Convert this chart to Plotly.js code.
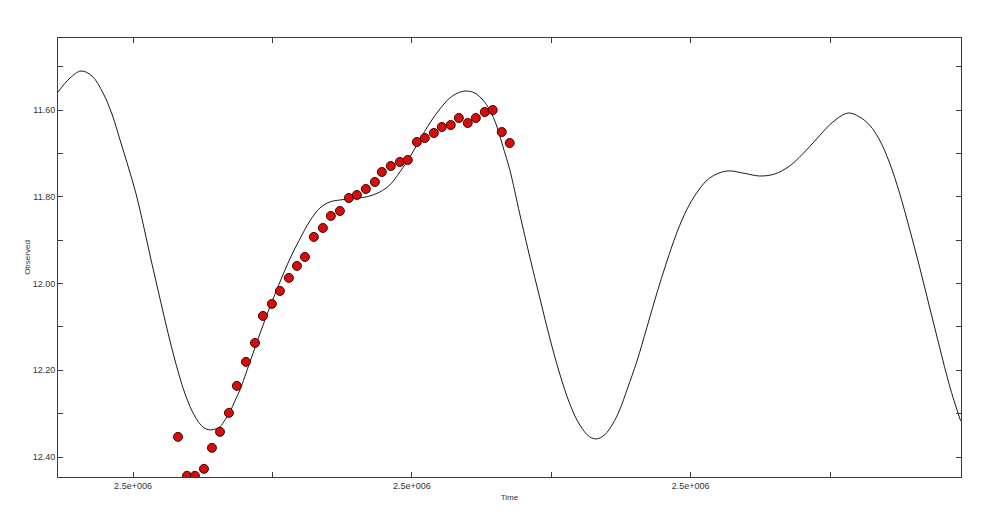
<!DOCTYPE html>
<html>
<head>
<meta charset="utf-8">
<script src="https://cdn.plot.ly/plotly-3.0.1.min.js"></script>
<style>
  html, body { margin: 0; padding: 0; background: #ffffff; }
  #chart { width: 1000px; height: 525px; }
</style>
</head>
<body>
<div id="chart"></div>
<script>
// Fitted model curve (time, magnitude)
const curveTime = [
  2450046.2, 2450054.8, 2450062.7, 2450070.6, 2450078.5, 2450084.9, 2450090.7, 2450096.4,
  2450102.2, 2450107.9, 2450113.6, 2450119.4, 2450125.1, 2450130.8, 2450136.6, 2450142.3,
  2450148.0, 2450152.3, 2450155.9, 2450159.5, 2450162.4, 2450166.0, 2450169.5, 2450173.1,
  2450176.7, 2450183.9, 2450191.0, 2450198.2, 2450205.4, 2450212.5, 2450219.7, 2450226.9,
  2450234.1, 2450241.2, 2450248.4, 2450255.6, 2450262.7, 2450269.9, 2450277.1, 2450284.2,
  2450291.4, 2450298.6, 2450305.7, 2450312.9, 2450320.1, 2450327.2, 2450333.0, 2450338.7,
  2450345.2, 2450350.9, 2450355.9, 2450360.9, 2450365.2, 2450370.3, 2450377.4, 2450384.6,
  2450391.8, 2450398.9, 2450406.1, 2450413.3, 2450420.4, 2450427.6, 2450432.6, 2450438.3,
  2450444.1, 2450449.1, 2450454.8, 2450461.3, 2450468.5, 2450475.6, 2450482.8, 2450490.0,
  2450497.1, 2450504.3, 2450513.6, 2450525.8, 2450537.3, 2450549.4, 2450560.2, 2450571.0,
  2450580.3, 2450590.3, 2450599.6, 2450609.0, 2450614.0, 2450621.2, 2450628.3, 2450635.5,
  2450642.7, 2450649.8, 2450657.0, 2450664.2, 2450671.3, 2450678.5, 2450685.7, 2450693.6
];
const curveMag = [
  11.5585, 11.5263, 11.5101, 11.5217, 11.5608, 11.6092, 11.6691, 11.7290,
  11.7935, 11.8719, 11.9548, 12.0355, 12.1138, 12.1852, 12.2474, 12.2935,
  12.3235, 12.3350, 12.3373, 12.3350, 12.3304, 12.3143, 12.2959, 12.2705,
  12.2452, 12.1806, 12.1161, 12.0539, 11.9963, 11.9433, 11.8972, 11.8557,
  11.8258, 11.8120, 11.8074, 11.8051, 11.8028, 11.7982, 11.7889, 11.7728,
  11.7428, 11.7083, 11.6691, 11.6300, 11.5977, 11.5724, 11.5608, 11.5562,
  11.5608, 11.5770, 11.6000, 11.6369, 11.6829, 11.7382, 11.8396, 11.9387,
  12.0332, 12.1253, 12.2083, 12.2774, 12.3258, 12.3535, 12.3581, 12.3488,
  12.3235, 12.2912, 12.2405, 12.1806, 12.1023, 12.0239, 11.9502, 11.8834,
  11.8304, 11.7912, 11.7567, 11.7406, 11.7452, 11.7521, 11.7475, 11.7290,
  11.7014, 11.6668, 11.6346, 11.6115, 11.6069, 11.6161, 11.6346, 11.6691,
  11.7221, 11.7912, 11.8742, 11.9618, 12.0539, 12.1461, 12.2359, 12.3166
];

// Observed points (time, magnitude)
const obsTime = [
  2450132.3, 2450138.7, 2450144.4, 2450150.9, 2450156.6, 2450162.4, 2450168.8, 2450174.5,
  2450181.0, 2450187.5, 2450193.2, 2450199.6, 2450205.4, 2450211.8, 2450217.6, 2450223.3,
  2450229.7, 2450236.2, 2450241.9, 2450248.4, 2450254.8, 2450260.6, 2450267.0, 2450273.5,
  2450278.5, 2450284.9, 2450291.4, 2450297.1, 2450303.6, 2450309.3, 2450315.8, 2450321.5,
  2450327.9, 2450333.7, 2450340.1, 2450345.9, 2450352.3, 2450358.0, 2450364.5, 2450370.2
];
const obsMag = [
  12.3535, 12.4433, 12.4433, 12.4272, 12.3788, 12.3419, 12.2982, 12.2359,
  12.1806, 12.1369, 12.0747, 12.0470, 12.0171, 11.9871, 11.9594, 11.9387,
  11.8926, 11.8719, 11.8442, 11.8327, 11.8028, 11.7958, 11.7820, 11.7659,
  11.7429, 11.7290, 11.7198, 11.7152, 11.6737, 11.6645, 11.6530, 11.6392,
  11.6346, 11.6184, 11.6300, 11.6184, 11.6046, 11.6000, 11.6507, 11.6760
];

// Axis ticks
const xTickVals = [2450100, 2450200, 2450300, 2450400, 2450500, 2450600];
const xTickText = ['2.5e+006', '', '2.5e+006', '', '2.5e+006', ''];
const yTickVals = [11.5, 11.6, 11.7, 11.8, 11.9, 12.0, 12.1, 12.2, 12.3, 12.4];
const yTickText = ['', '11.60', '', '11.80', '', '12.00', '', '12.20', '', '12.40'];
const xRange = [2450046.2, 2450693.9];
const yRange = [12.446, 11.434];

const traces = [
  {
    x: curveTime, y: curveMag, type: 'scatter', mode: 'lines',
    line: { color: '#1a1a1a', width: 1, shape: 'spline', smoothing: 1 },
    hoverinfo: 'skip', showlegend: false
  },
  {
    x: obsTime, y: obsMag, type: 'scatter', mode: 'markers',
    marker: { color: '#d40d0d', size: 9, line: { color: '#4a0000', width: 1 } },
    showlegend: false
  }
];

const axisCommon = {
  showline: true, linecolor: '#3a3a3a', linewidth: 1, mirror: 'ticks',
  ticks: 'inside', ticklen: 5, tickcolor: '#3a3a3a', tickwidth: 1,
  showgrid: false, zeroline: false,
  tickfont: { family: 'Liberation Sans, Arial, sans-serif', size: 9, color: '#333333' }
};

const layout = {
  width: 1000, height: 525,
  margin: { l: 58, r: 39, t: 38, b: 48 },
  paper_bgcolor: '#ffffff', plot_bgcolor: '#ffffff',
  xaxis: Object.assign({}, axisCommon, {
    range: xRange, tickmode: 'array', tickvals: xTickVals, ticktext: xTickText,
    title: { text: 'Time', font: { family: 'Liberation Sans, Arial, sans-serif', size: 8, color: '#333333' }, standoff: 4 }
  }),
  yaxis: Object.assign({}, axisCommon, {
    range: yRange, tickmode: 'array', tickvals: yTickVals, ticktext: yTickText,
    title: { text: 'Observed', font: { family: 'Liberation Sans, Arial, sans-serif', size: 8, color: '#333333' }, standoff: 0 }
  })
};

Plotly.newPlot('chart', traces, layout, { displayModeBar: false, staticPlot: true });
</script>
</body>
</html>
